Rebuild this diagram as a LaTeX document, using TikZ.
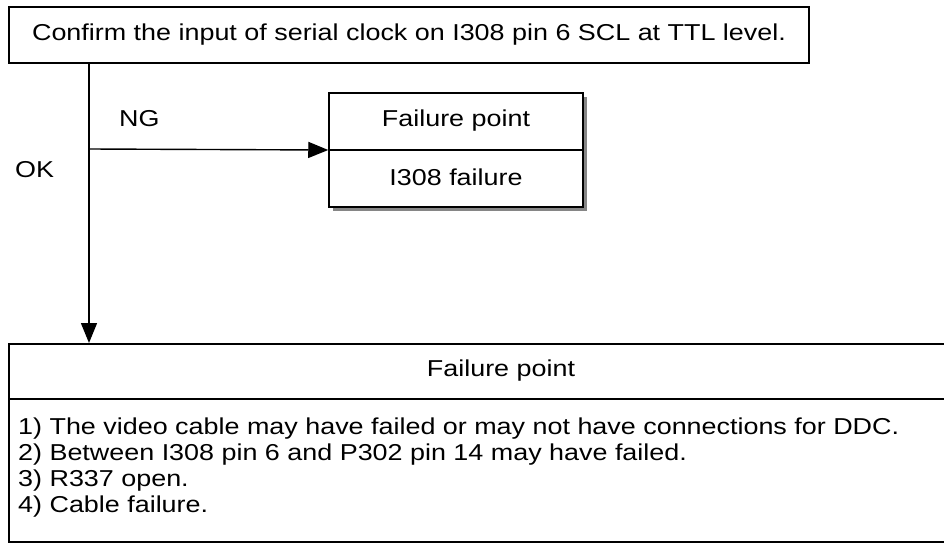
\documentclass[tikz,border=0pt]{standalone}
\usepackage{fontspec}
\setmainfont{Liberation Sans}[FakeStretch=1.17]
\usetikzlibrary{arrows.meta,shadows}
\begin{document}
\begin{tikzpicture}[x=1pt,y=-1pt,
  box/.style={draw=black, line width=1.5pt, fill=white, inner sep=0pt},
  conn/.style={draw=black, line width=1.4pt, -{Triangle[length=20pt,width=16pt]}},
  lbl/.style={inner sep=0pt, font=\fontsize{23}{27}\selectfont},
  shad/.style={drop shadow={shadow xshift=4pt, shadow yshift=-4pt, fill=gray!95, opacity=1}}
]
\useasboundingbox (0,0) rectangle (944,543);
\clip (0,0) rectangle (944,543);
\node[box, minimum width=800pt, minimum height=56pt, font=\fontsize{23}{27}\selectfont] (top) at (409,35) {Confirm the input of serial clock on I308 pin 6 SCL at TTL level.};
\node[box, shad, minimum width=254pt, minimum height=114pt] (fp) at (456,150) {};
\draw[line width=1.3pt] (fp.west) -- (fp.east);
\node[lbl] (fpt) at (456,121) {Failure point};
\node[lbl] (fpb) at (456,177) {I308 failure};
\node[box, anchor=north west, minimum width=1020pt, minimum height=198pt] (bot) at (8,343) {};
\draw[line width=1.3pt] (bot.west |- 0,399) -- (bot.east |- 0,399);
\node[lbl] (bt) at (501,371) {Failure point};
\node[lbl, anchor=base west] (l1) at (18,434) {1) The video cable may have failed or may not have connections for DDC.};
\node[lbl, anchor=base west] (l2) at (18,460) {2) Between I308 pin 6 and P302 pin 14 may have failed.};
\node[lbl, anchor=base west] (l3) at (18,486) {3) R337 open.};
\node[lbl, anchor=base west] (l4) at (18,512) {4) Cable failure.};
\coordinate (j) at (89,149);
\draw[conn] (top.south -| j) -- (bot.north -| j);
\draw[conn] (j) -- (fp.west);
\node[lbl, anchor=base west] (ng) at (119,126) {NG};
\node[lbl, anchor=base west] (ok) at (15,177) {OK};
\end{tikzpicture}
\end{document}
